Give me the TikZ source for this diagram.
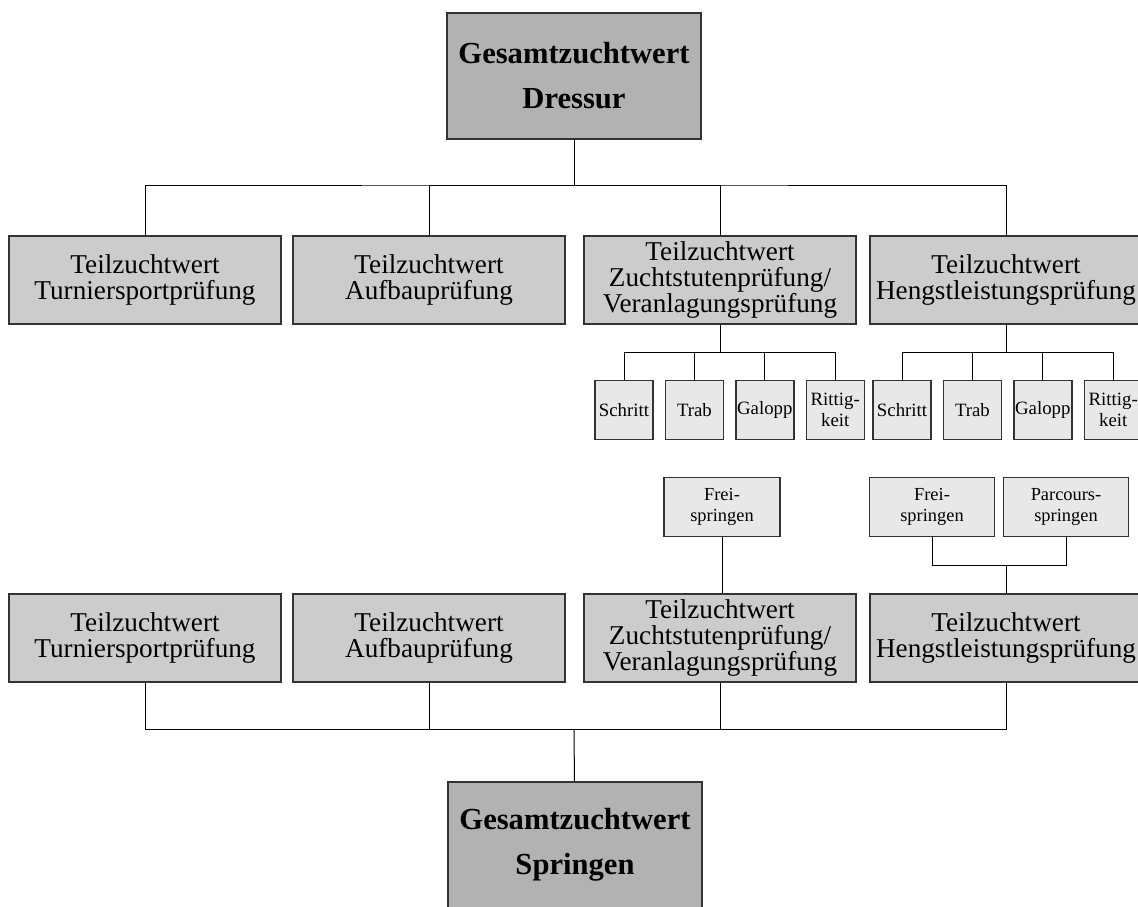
\documentclass[tikz,border=0pt]{standalone}
\usepackage{fontspec}
\setmainfont{Liberation Serif}
\usetikzlibrary{positioning}
\begin{document}
\begin{tikzpicture}[x=0.5pt, y=-0.5pt, node distance=5.5pt,
	box/.style={rectangle, draw=black!80, line width=0.7pt, inner sep=0, align=center},
	total/.style={box, fill=black!30, minimum width=127pt, minimum height=63pt, font=\fontsize{15.3}{22.5}\selectfont\bfseries},
	part/.style={box, fill=black!20, minimum width=136pt, minimum height=44pt, font=\fontsize{13.6}{12.9}\selectfont},
	sub/.style={box, fill=black!9, minimum width=29pt, minimum height=29.5pt, font=\fontsize{9.4}{10.5}\selectfont},
	jump/.style={box, fill=black!9, minimum width=62.5pt, minimum height=29.5pt, font=\fontsize{9.2}{10.6}\selectfont},
	link/.style={line width=0.5pt}]

	\useasboundingbox (0,0) rectangle (1138,906);
	\clip (0,0) rectangle (1138,906);

	% Dressur
	\node [total] (gd) at (574,76) {Gesamtzuchtwert\\Dressur};
	\node [part] (d1) at (145,280) {Teilzuchtwert\\Turniersportprüfung};
	\node [part] (d2) at (429,280) {Teilzuchtwert\\Aufbauprüfung};
	\node [part] (d3) at (720,280) {Teilzuchtwert\\Zuchtstutenprüfung/\\Veranlagungsprüfung};
	\node [part] (d4) at (1006,280) {Teilzuchtwert\\Hengstleistungsprüfung};

	\node [sub] (v1) at (624,410) {Schritt};
	\node [sub,right=of v1] (v2) {Trab};
	\node [sub,right=of v2] (v3) {Galopp};
	\node [sub,right=of v3] (v4) {Rittig-\\keit};

	\node [sub] (h1) at (902,410) {Schritt};
	\node [sub,right=of h1] (h2) {Trab};
	\node [sub,right=of h2] (h3) {Galopp};
	\node [sub,right=of h3] (h4) {Rittig-\\keit};

	\coordinate (bd) at (574,185);
	\coordinate (bv) at (720,352);
	\coordinate (bh) at (1006,352);

	\begin{scope}[link]
	\draw (gd) -- (bd);
	\draw (d1.north) |- (bd) -| (d4.north);
	\draw (d2.north) |- (bd);
	\draw (d3.north) |- (bd);
	\draw (d3) -- (bv);
	\draw (v1.north) |- (bv) -| (v4.north);
	\draw (v2.north) |- (bv);
	\draw (v3.north) |- (bv);
	\draw (d4) -- (bh);
	\draw (h1.north) |- (bh) -| (h4.north);
	\draw (h2.north) |- (bh);
	\draw (h3.north) |- (bh);
	\end{scope}

	% Springen
	\node [jump,minimum width=58pt] (f3) at (722,507) {Frei-\\springen};
	\node [jump] (f4) at (932,507) {Frei-\\springen};
	\node [jump] (p4) at (1066,507) {Parcours-\\springen};

	\node [part] (s1) at (145,638) {Teilzuchtwert\\Turniersportprüfung};
	\node [part] (s2) at (429,638) {Teilzuchtwert\\Aufbauprüfung};
	\node [part] (s3) at (720,638) {Teilzuchtwert\\Zuchtstutenprüfung/\\Veranlagungsprüfung};
	\node [part] (s4) at (1006,638) {Teilzuchtwert\\Hengstleistungsprüfung};
	\node [total] (gs) at (575,845) {Gesamtzuchtwert\\Springen};

	\coordinate (bf) at (1006,565);
	\coordinate (bs) at (574,729);

	\begin{scope}[link]
	\draw (f3.south) -- (f3.south |- s3.north);
	\draw (f4.south) |- (bf) -| (p4.south);
	\draw (bf) -- (s4);
	\draw (s1.south) |- (bs) -| (s4.south);
	\draw (s2.south) |- (bs);
	\draw (s3.south) |- (bs);
	\draw (bs) -- (gs);
	\end{scope}
\end{tikzpicture}
\end{document}
